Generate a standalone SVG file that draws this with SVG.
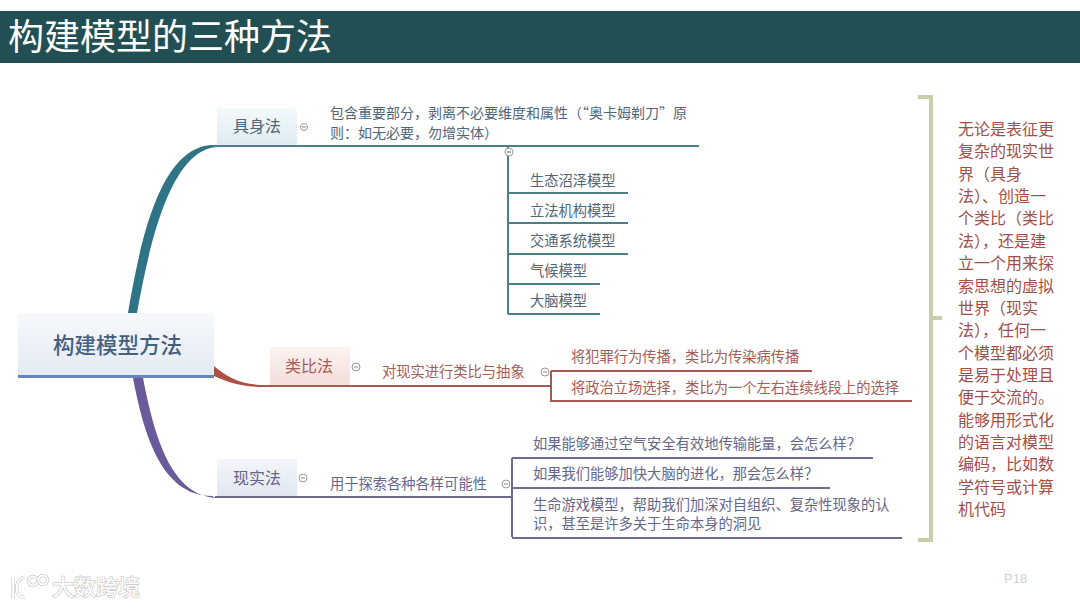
<svg xmlns="http://www.w3.org/2000/svg" width="1080" height="608" viewBox="0 0 1080 608">
<style>
text{font-family:"Noto Sans CJK SC","Liberation Sans",sans-serif;font-size:14.28px}
.t{fill:#4f6678}.r{fill:#a65c57}.p{fill:#66668a}
.k{font-size:16px}
.d{font-size:14px}
.s{font-size:16px;fill:#a0504b}
.c{fill:#fff;stroke:#999;stroke-width:1}
.lt{fill:none;stroke:#4f7f86;stroke-width:2}.lr{fill:none;stroke:#a85a52;stroke-width:2}.lp{fill:none;stroke:#6f6c92;stroke-width:2}
.wm{fill:#fff;stroke:#cfcfcf;stroke-width:1.6;paint-order:stroke}
.lg{fill:none;stroke:#cfcfcf;stroke-width:3.4}.lw{fill:none;stroke:#fff;stroke-width:1.8}
</style>
<defs>
<linearGradient id="gm" x1="0" y1="0" x2="0" y2="1"><stop offset="0" stop-color="#f7f9fc"/><stop offset="1" stop-color="#e3eaf3"/></linearGradient>
<linearGradient id="gt" x1="0" y1="0" x2="0" y2="1"><stop offset="0" stop-color="#f4f9fb"/><stop offset="1" stop-color="#dfebf1"/></linearGradient>
<linearGradient id="gr" x1="0" y1="0" x2="0" y2="1"><stop offset="0" stop-color="#fbf3f1"/><stop offset="1" stop-color="#f3dedb"/></linearGradient>
<linearGradient id="gp" x1="0" y1="0" x2="0" y2="1"><stop offset="0" stop-color="#f4f6fa"/><stop offset="1" stop-color="#e0e6f0"/></linearGradient>
</defs>
<rect width="1080" height="608" fill="#fff"/>
<g id="title"><rect x="0" y="11" width="1080" height="52" fill="#214f53"/><text x="8" y="50" fill="#fff" style="font-size:36px">构建模型的三种方法</text></g>

<g id="connectors">
<path d="M128 313C139 250 158 146 213 145L218 147C172 148 150 240 137 313Z" fill="#2f7386"/>
<path d="M214 146H699" class="lt"/>
<path d="M508 146V314M508 193H628M508 223H628M508 254H628M508 284H600M508 314H600" class="lt"/>
<path d="M214 366C228 378 242 385 265 385V387C240 387 228 382 214 376Z" fill="#ac4f45"/>
<path d="M262 386H551M551 386V371M551 371H812M551 386V401H912" class="lr"/>
<path d="M133 378C143 430 160 496 212 496L216 498C172 495 155 440 143 378Z" fill="#6a5a9a"/>
<path d="M215 497H512M512 458V537M512 458H873M512 488H830M512 538H902" class="lp"/>
<path d="M918 97H931V540H918M931 318H942" fill="none" stroke="#c5d0a9" stroke-width="4"/>
</g>

<g id="root"><rect x="18" y="313" width="196" height="63" fill="url(#gm)"/><rect x="18" y="375" width="196" height="3" fill="#6487b8"/><text x="53" y="353" style="font-size:21.5px;font-weight:500" fill="#44607e">构建模型方法</text></g>

<g id="n1"><rect x="217" y="108" width="80" height="37" fill="url(#gt)"/><text x="233" y="132" class="t k">具身法</text><circle cx="304" cy="127" r="3.5" class="c"/><path d="M302 127h4" stroke="#888"/></g>
<g id="n1a"><text x="330" y="118" class="t d">包含重要部分，剥离不必要维度和属性（“奥卡姆剃刀”原</text><text x="330" y="138" class="t d">则：如无必要，勿增实体）</text><circle cx="509" cy="152" r="4" class="c"/><path d="M507 152h4" stroke="#666"/></g>
<g id="n1b"><text x="530" y="186" class="t">生态沼泽模型</text></g>
<g id="n1c"><text x="530" y="216" class="t">立法机构模型</text></g>
<g id="n1d"><text x="530" y="246" class="t">交通系统模型</text></g>
<g id="n1e"><text x="530" y="276" class="t">气候模型</text></g>
<g id="n1f"><text x="530" y="306" class="t">大脑模型</text></g>

<g id="n2"><rect x="270" y="347" width="80" height="38" fill="url(#gr)"/><text x="285" y="372" class="r k">类比法</text><circle cx="356" cy="367" r="4" class="c"/><path d="M354 367h4" stroke="#888"/></g>
<g id="n2a"><text x="382" y="377" class="r">对现实进行类比与抽象</text><circle cx="545" cy="372" r="4" class="c"/><path d="M543 372h4" stroke="#888"/></g>
<g id="n2b"><text x="571" y="362" class="r">将犯罪行为传播，类比为传染病传播</text></g>
<g id="n2c"><text x="571" y="393" class="r">将政治立场选择，类比为一个左右连续线段上的选择</text></g>

<g id="n3"><rect x="217" y="459" width="80" height="37" fill="url(#gp)"/><text x="233" y="484" class="p k">现实法</text><circle cx="303" cy="478" r="4" class="c"/><path d="M301 478h4" stroke="#888"/></g>
<g id="n3a"><text x="330" y="489" class="p">用于探索各种各样可能性</text><circle cx="506" cy="484" r="4" class="c"/><path d="M504 484h4" stroke="#888"/></g>
<g id="n3b"><text x="533" y="449" class="p">如果能够通过空气安全有效地传输能量，会怎么样？</text></g>
<g id="n3c"><text x="533" y="479" class="p">如果我们能够加快大脑的进化，那会怎么样？</text></g>
<g id="n3d"><text x="533" y="510" class="p">生命游戏模型，帮助我们加深对自组织、复杂性现象的认</text><text x="533" y="529" class="p">识，甚至是许多关于生命本身的洞见</text></g>

<g id="note">
<text x="958" y="135" class="s">无论是表征更</text>
<text x="958" y="157.4" class="s">复杂的现实世</text>
<text x="958" y="179.7" class="s">界（具身</text>
<text x="958" y="202" class="s">法）、创造一</text>
<text x="958" y="224.4" class="s">个类比（类比</text>
<text x="958" y="246.8" class="s">法），还是建</text>
<text x="958" y="269.1" class="s">立一个用来探</text>
<text x="958" y="291.5" class="s">索思想的虚拟</text>
<text x="958" y="313.8" class="s">世界（现实</text>
<text x="958" y="336.2" class="s">法），任何一</text>
<text x="958" y="358.5" class="s">个模型都必须</text>
<text x="958" y="380.9" class="s">是易于处理且</text>
<text x="958" y="403.2" class="s">便于交流的。</text>
<text x="958" y="425.6" class="s">能够用形式化</text>
<text x="958" y="447.9" class="s">的语言对模型</text>
<text x="958" y="470.3" class="s">编码，比如数</text>
<text x="958" y="492.6" class="s">学符号或计算</text>
<text x="958" y="515" class="s">机代码</text>
</g>

<text x="1004" y="583" fill="#cfcfcf" style="font-size:13px;font-family:'Liberation Sans',sans-serif">P18</text>
<g id="watermark">
<path d="M13 578V598M24 577C14 582 14 596 25 598" class="lg"/><path d="M13 578V598M24 577C14 582 14 596 25 598" class="lw"/>
<circle cx="33" cy="581" r="4.5" class="lg"/><circle cx="33" cy="581" r="4.5" class="lw"/>
<circle cx="43" cy="580" r="4.5" class="lg"/><circle cx="43" cy="580" r="4.5" class="lw"/>
<text x="52" y="595" class="wm" style="font-size:22px">大数跨境</text>
</g>
</svg>
